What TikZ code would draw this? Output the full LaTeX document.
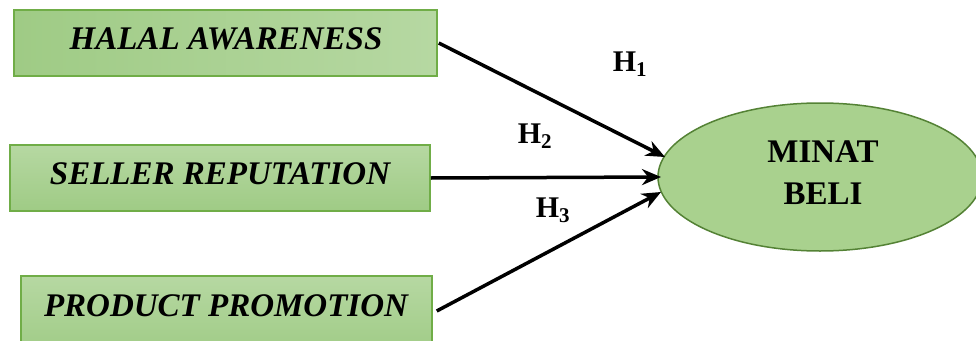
\documentclass[tikz,border=0pt]{standalone}
\usepackage{fontspec}
\setmainfont{Liberation Serif}
\usetikzlibrary{arrows.meta,shapes.geometric}
\definecolor{boxfillA}{HTML}{9FCB85}
\definecolor{boxfillB}{HTML}{B6D8A2}
\definecolor{boxline}{HTML}{70AD47}
\definecolor{ellfill}{HTML}{A9D18E}
\definecolor{ellline}{HTML}{548235}
\tikzset{
  varbox/.style={draw=boxline, line width=1.5pt, left color=boxfillA, right color=boxfillB, inner sep=0pt},
  vartext/.style={font=\fontsize{33}{36}\selectfont\bfseries\itshape, text=black},
  depell/.style={ellipse, draw=ellline, line width=1.5pt, fill=ellfill, minimum width=324pt, minimum height=148pt, inner sep=0pt},
  link/.style={line width=3.5pt, -{Stealth[length=19pt,width=16pt]}},
  hlab/.style={font=\fontsize{30}{32}\selectfont\bfseries}
}
\begin{document}
\begin{tikzpicture}[x=1pt,y=-1pt]
\useasboundingbox (0,0) rectangle (976,340);
\node[varbox, minimum width=423pt, minimum height=66pt] (ha) at (225.5,43) {};
\node[vartext] at (226,39) {HALAL AWARENESS};
\node[varbox, minimum width=420pt, minimum height=66pt, top color=boxfillB, bottom color=boxfillA] (sr) at (220,178) {};
\node[vartext] at (220,174) {SELLER REPUTATION};
\node[varbox, minimum width=411pt, minimum height=80pt, top color=boxfillB, bottom color=boxfillA] (pp) at (226.5,316) {};
\node[vartext] at (226,306) {PRODUCT PROMOTION};
\node[depell] (mb) at (820,177) {};
\node[font=\fontsize{33}{42}\selectfont\bfseries, align=center] at (823,173) {MINAT\\BELI};
\coordinate (mbA) at (665,157);
\coordinate (mbB) at (661,177);
\coordinate (mbC) at (661,192);
\draw[link] ([xshift=1pt]ha.east) -- (mbA);
\draw[link] (sr.east) -- (mbB);
\draw[link] ([xshift=4pt,yshift=5pt]pp.east) -- (mbC);
\node[hlab] at (630,64) {H\textsubscript{1}};
\node[hlab] at (535,136) {H\textsubscript{2}};
\node[hlab] at (553,210) {H\textsubscript{3}};
\end{tikzpicture}
\end{document}
